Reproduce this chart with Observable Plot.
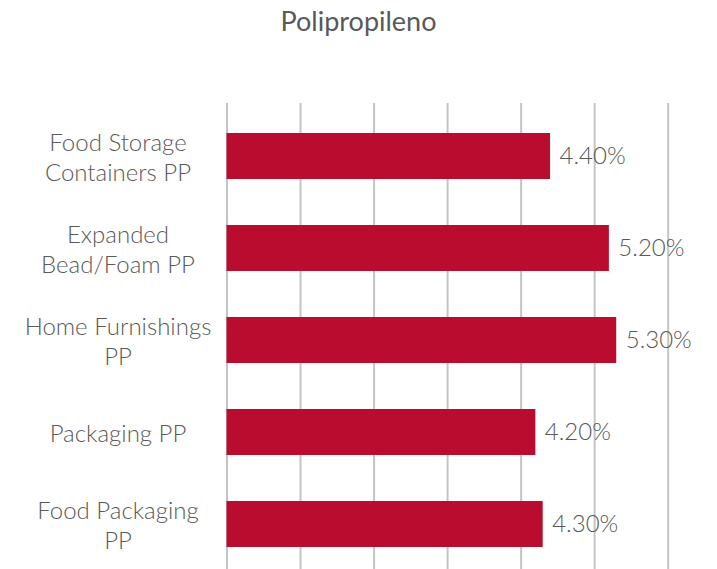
<!DOCTYPE html>
<html>
<head>
<meta charset="utf-8">
<script src="https://cdn.jsdelivr.net/npm/d3@7"></script>
<script src="https://cdn.jsdelivr.net/npm/@observablehq/plot@0.6"></script>
<style>
  body { margin: 0; background: #fff; }
  #title { height: 50px; box-sizing: border-box; padding-top: 4px; text-align: center;
           font-family: Lato, sans-serif; font-size: 27px; color: #595959; width: 717px; }
</style>
</head>
<body>
<div id="title">Polipropileno</div>
<div id="chart"></div>
<script>
const categories = ["Food Storage Containers PP", "Expanded Bead/Foam PP", "Home Furnishings PP", "Packaging PP", "Food Packaging PP"];
const tickLabels = ["Food Storage\nContainers PP", "Expanded\nBead/Foam PP", "Home Furnishings\nPP", "Packaging PP", "Food Packaging\nPP"];
const values = [4.4, 5.2, 5.3, 4.2, 4.3];
const gridTicks = [0, 1, 2, 3, 4, 5, 6];

const data = categories.map((c, i) => ({cat: c, label: tickLabels[i], value: values[i]}));

const chart = Plot.plot({
  width: 717,
  height: 519,
  marginTop: 53,
  marginBottom: 0,
  marginLeft: 226.5,
  marginRight: 49.3,
  style: {fontFamily: "'Lato Light', Lato, sans-serif", fontSize: "24px", fontWeight: 300, color: "#595959", background: "#fff"},
  x: {domain: [0, 6], axis: null},
  y: {domain: categories, range: [58.9, 521.9], paddingInner: 0.5, paddingOuter: 0.25, axis: null},
  marks: [
    Plot.ruleX(gridTicks, {stroke: "#c4c4c4", strokeWidth: 2}),
    Plot.barX(data, {x: "value", y: "cat", fill: "#ba0c2f"}),
    Plot.text(data, {x: "value", y: "cat", text: d => d3.format(".2f")(d.value) + "%", textAnchor: "start", dx: 9, fill: "#595959"}),
    Plot.text(data, {y: "cat", text: "label", frameAnchor: "left", dx: -109, textAnchor: "middle", lineAnchor: "middle", lineHeight: 1.25, fill: "#595959"})
  ]
});
document.getElementById("chart").appendChild(chart);
</script>
</body>
</html>
